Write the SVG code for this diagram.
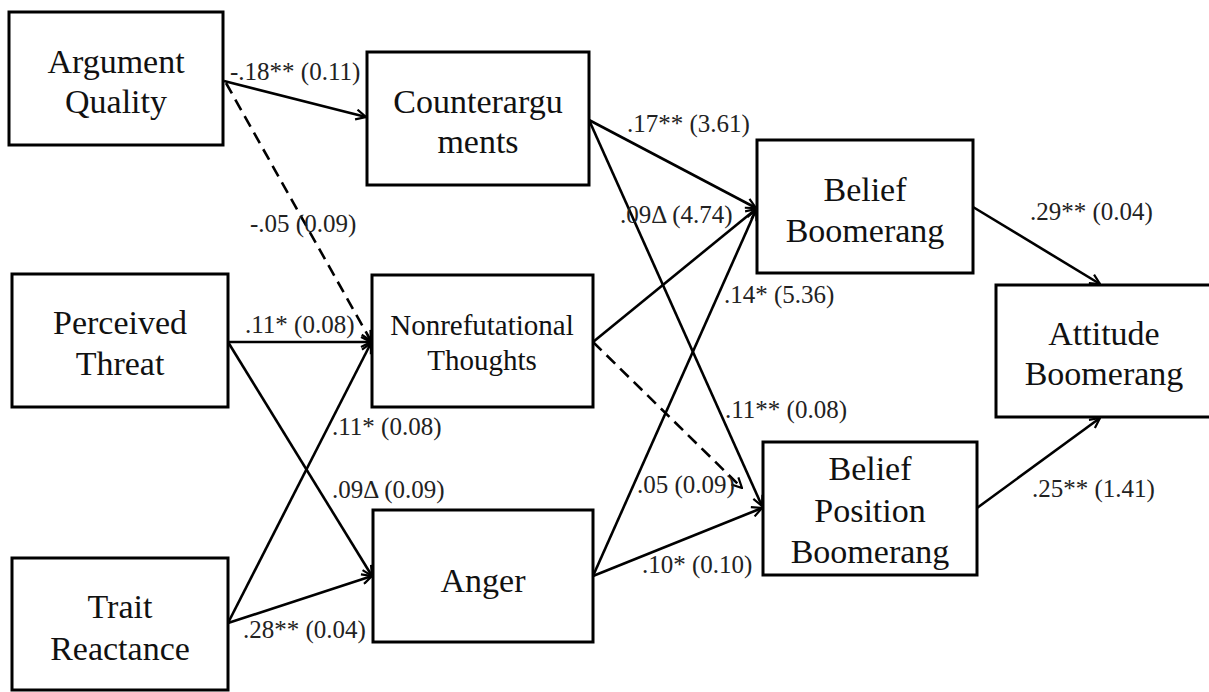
<svg xmlns="http://www.w3.org/2000/svg" width="1209" height="692" viewBox="0 0 1209 692">
<style>
.box{fill:#fff;stroke:#000;stroke-width:3}
.nt{font-family:"Liberation Serif","Times New Roman",serif;font-size:34px;fill:#111;text-anchor:middle}
.nts{font-family:"Liberation Serif","Times New Roman",serif;font-size:29px;fill:#111;text-anchor:middle}
.lb{font-family:"Liberation Serif","Times New Roman",serif;font-size:25px;fill:#222}
.c{fill:none;stroke:#000;stroke-width:2.6;marker-end:url(#ah)}
.d{stroke-dasharray:12 7}
</style>
<defs>
<marker id="ah" viewBox="0 0 12 12" refX="11" refY="6" markerWidth="12" markerHeight="12" markerUnits="userSpaceOnUse" orient="auto">
<path d="M1,1 L11,6 L1,11" fill="none" stroke="#000" stroke-width="2.2" stroke-dasharray="none"/>
</marker>
</defs>
<rect width="1209" height="692" fill="#fff"/>
<g id="connectors">
<line class="c" x1="224" y1="81" x2="366" y2="117"/>
<line class="c d" x1="226" y1="83" x2="371" y2="341"/>
<line class="c" x1="228" y1="342" x2="371" y2="342"/>
<line class="c" x1="228" y1="342" x2="372" y2="576"/>
<line class="c" x1="228" y1="623" x2="371" y2="343"/>
<line class="c" x1="228" y1="623" x2="372" y2="576"/>
<line class="c" x1="589" y1="120" x2="756" y2="208"/>
<line class="c" x1="589" y1="120" x2="762" y2="506"/>
<line class="c" x1="593" y1="342" x2="756" y2="209"/>
<line class="c d" x1="593" y1="342" x2="742" y2="488"/>
<line class="c" x1="593" y1="576" x2="756" y2="210"/>
<line class="c" x1="593" y1="576" x2="762" y2="508"/>
<line class="c" x1="973" y1="207" x2="1100" y2="284"/>
<line class="c" x1="977" y1="508" x2="1100" y2="418"/>
</g>
<g id="labels">
<text class="lb" x="230" y="80">-.18** (0.11)</text>
<text class="lb" x="250" y="232">-.05 (0.09)</text>
<text class="lb" x="245" y="333">.11* (0.08)</text>
<text class="lb" x="332" y="435">.11* (0.08)</text>
<text class="lb" x="332" y="498">.09Δ (0.09)</text>
<text class="lb" x="243" y="638">.28** (0.04)</text>
<text class="lb" x="627" y="132">.17** (3.61)</text>
<text class="lb" x="620" y="223">.09Δ (4.74)</text>
<text class="lb" x="724" y="303">.14* (5.36)</text>
<text class="lb" x="725" y="418">.11** (0.08)</text>
<text class="lb" x="637" y="493">.05 (0.09)</text>
<text class="lb" x="642" y="573">.10* (0.10)</text>
<text class="lb" x="1030" y="220">.29** (0.04)</text>
<text class="lb" x="1032" y="497">.25** (1.41)</text>
</g>
<g id="argument-quality">
<rect class="box" x="9" y="12" width="214" height="133"/>
<text class="nt" x="116" y="73">Argument</text>
<text class="nt" x="116" y="113">Quality</text>
</g>
<g id="counterarguments">
<rect class="box" x="367" y="52" width="222" height="133"/>
<text class="nt" x="478" y="113">Counterargu</text>
<text class="nt" x="478" y="153">ments</text>
</g>
<g id="perceived-threat">
<rect class="box" x="12" y="274" width="216" height="133"/>
<text class="nt" x="120" y="334">Perceived</text>
<text class="nt" x="120" y="375">Threat</text>
</g>
<g id="nonrefutational-thoughts">
<rect class="box" x="372" y="275" width="221" height="132"/>
<text class="nts" x="482" y="335">Nonrefutational</text>
<text class="nts" x="482" y="370">Thoughts</text>
</g>
<g id="trait-reactance">
<rect class="box" x="12" y="558" width="216" height="132"/>
<text class="nt" x="120" y="618">Trait</text>
<text class="nt" x="120" y="660">Reactance</text>
</g>
<g id="anger">
<rect class="box" x="373" y="510" width="220" height="132"/>
<text class="nt" x="483" y="592">Anger</text>
</g>
<g id="belief-boomerang">
<rect class="box" x="757" y="140" width="216" height="133"/>
<text class="nt" x="865" y="201">Belief</text>
<text class="nt" x="865" y="242">Boomerang</text>
</g>
<g id="belief-position-boomerang">
<rect class="box" x="763" y="442" width="214" height="133"/>
<text class="nt" x="870" y="480">Belief</text>
<text class="nt" x="870" y="522">Position</text>
<text class="nt" x="870" y="563">Boomerang</text>
</g>
<g id="attitude-boomerang">
<rect class="box" x="996" y="285" width="216" height="132"/>
<text class="nt" x="1104" y="345">Attitude</text>
<text class="nt" x="1104" y="385">Boomerang</text>
</g>
</svg>
